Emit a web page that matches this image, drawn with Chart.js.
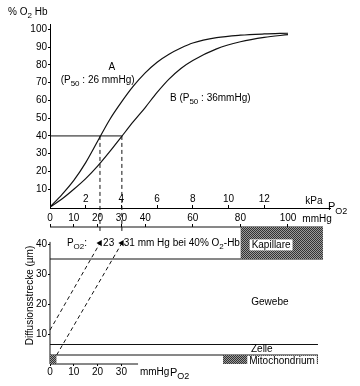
<!DOCTYPE html>
<html><head><meta charset="utf-8">
<script src="https://cdn.jsdelivr.net/npm/chart.js@4.4.1/dist/chart.umd.min.js"></script>
<style>
html,body{margin:0;padding:0;background:#fff;}
#wrap{position:relative;width:360px;height:386px;background:#fff;}
canvas{position:absolute;left:0;top:0;}
</style></head><body>
<div id="wrap"><canvas id="cB" width="360" height="386"></canvas><canvas id="cT" width="360" height="386"></canvas></div>
<script>
// ---------- values ----------
const pO2  = [0, 5, 10, 15, 20, 25, 30, 35, 40, 45, 50, 55, 60, 70, 80, 90, 100];        // mmHg
const satA = [0, 7, 15, 25, 37, 49, 59, 68, 75.5, 81.5, 86, 89.5, 92.3, 95.3, 96.7, 97.4, 97.8]; // % O2-Hb, curve A
const satB = [0, 4.5, 10, 16, 23, 31, 39.5, 48, 56, 64.5, 72, 78, 82.5, 89, 93, 95.5, 97];      // % O2-Hb, curve B
const p40 = [21, 30.2];            // mmHg where A and B reach 40 % (as drawn)
const level40 = 40;                // % O2-Hb
const pctTicks   = [10, 20, 30, 40, 50, 60, 70, 80, 90, 100];
const mmHgTicks  = [0, 10, 20, 30, 40, 60, 80, 100];
const kPaTicks   = [2, 4, 6, 8, 10, 12];
const umTicks    = [10, 20, 30, 40];
const lowMmHgTicks = [0, 10, 20, 30];
// diffusion sketch (x: mmHg, y: µm)
const capWall = 35, capTop = 45.67;
const capX = [80, 114.7];
const cellLine = 6.5, mitoLine = 3;
const layerEnd = 112.6;
const mitoX = [72.7, 112.6];
const smallMitoX = [0, 2.8];
const diag1X = [0, 21],   diag1Y = [11.3, 40.3];
const diag2X = [2.8, 30.2], diag2Y = [3, 40.3];
const yAxisTopUm = 40.7, xAxisEndMmHg = 37;
const xMax = 117.65, kPaPerMmHg = 0.133322;

const FF = '"Liberation Sans", Arial, sans-serif';
Chart.defaults.font.family = FF;
Chart.defaults.font.size = 10;
Chart.defaults.color = '#000';

const pts = (xs, ys) => xs.map((x, i) => ({x, y: ys[i]}));

// hatch pattern (dark dither)
function hatch() {
  const c = document.createElement('canvas'); c.width = 2; c.height = 2;
  const g = c.getContext('2d');
  g.fillStyle = '#9a9a9a'; g.fillRect(0, 0, 2, 2);
  g.fillStyle = '#333'; g.fillRect(0, 0, 1, 1); g.fillRect(1, 1, 1, 1);
  return g.createPattern(c, 'repeat');
}

function drawRich(ctx, text, x, y, align, size, box) {
  const parts = text.split(/_\{([^}]*)\}/);
  const big = size + 'px ' + FF, small = Math.round(size * 0.78) + 'px ' + FF;
  let w = 0;
  parts.forEach((t, i) => { ctx.font = (i % 2) ? small : big; w += ctx.measureText(t).width; });
  let cx = align === 'center' ? x - w / 2 : (align === 'right' ? x - w : x);
  if (box) {
    ctx.fillStyle = '#fff';
    ctx.fillRect(cx - 2, y - size * 0.55, w + 4, size * 1.1);
  }
  ctx.fillStyle = '#000'; ctx.textAlign = 'left'; ctx.textBaseline = 'middle';
  parts.forEach((t, i) => {
    ctx.font = (i % 2) ? small : big;
    ctx.fillText(t, cx, (i % 2) ? y + size * 0.38 : y);
    cx += ctx.measureText(t).width;
  });
}

function labelPlugin(labels) {
  return {
    id: 'labels',
    afterDatasetsDraw(chart) {
      const ctx = chart.ctx, sx = chart.scales.x, sy = chart.scales.y;
      ctx.save();
      labels.forEach(l => drawRich(ctx, l.t, sx.getPixelForValue(l.x), sy.getPixelForValue(l.y), l.a || 'left', l.s || 10, l.box));
      ctx.restore();
    }
  };
}

const setTicks = arr => s => { s.ticks = arr.map(v => ({value: v})); };
const axisGrid = len => ({drawOnChartArea: false, drawTicks: true, tickLength: len, color: '#000', lineWidth: 1});

// ---------------- top chart: dissociation curves ----------------
const lineStyle = {borderColor: '#111', borderWidth: 1.2, pointRadius: 0, fill: false};
new Chart(document.getElementById('cT'), {
  type: 'line',
  data: {
    datasets: [
      Object.assign({label: 'A', data: pts(pO2, satA), cubicInterpolationMode: 'monotone'}, lineStyle),
      Object.assign({label: 'B', data: pts(pO2, satB), cubicInterpolationMode: 'monotone'}, lineStyle),
      Object.assign({label: '40%', data: pts([0, p40[1]], [level40, level40])}, lineStyle, {borderWidth: 1}),
      Object.assign({label: 'dA', data: pts([p40[0], p40[0]], [level40, -15]), clip: false, borderDash: [4, 3]}, lineStyle, {borderWidth: 1}),
      Object.assign({label: 'dB', data: pts([p40[1], p40[1]], [level40, -15]), clip: false, borderDash: [4, 3]}, lineStyle, {borderWidth: 1})
    ]
  },
  options: {
    responsive: false, animation: false, devicePixelRatio: 1,
    layout: {padding: {left: 0, right: 30, top: 24, bottom: 179}},
    plugins: {legend: {display: false}, tooltip: {enabled: false}},
    scales: {
      x: {type: 'linear', min: 0, max: xMax, display: false},
      y: {
        type: 'linear', min: 0, max: 103,
        afterFit: s => { s.width = 50; },
        afterBuildTicks: setTicks(pctTicks),
        grid: axisGrid(2), border: {display: true, color: '#000', width: 1},
        ticks: {padding: 1, font: {size: 10}}
      }
    }
  },
  plugins: [labelPlugin([
    {t: '% O_{2} Hb', x: -17.6, y: 109.7},
    {t: 'A', x: 26, y: 78.7, a: 'center'},
    {t: '(P_{50} : 26 mmHg)', x: 20, y: 71.4, a: 'center'},
    {t: 'B (P_{50} : 36mmHg)', x: 50.4, y: 61.3}
  ])]
});

// ---------------- bottom chart: diffusion distance ----------------
const H = hatch();
const solid = {borderColor: '#111', borderWidth: 1, pointRadius: 0, fill: false};
const fillBox = (xs, yLine, base) => ({data: pts(xs, [yLine, yLine]), borderWidth: 0, pointRadius: 0, backgroundColor: H, fill: {value: base}});
const arrowLine = (xs, ys) => Object.assign({}, solid, {
  data: pts(xs, ys), borderDash: [4, 3],
  pointRadius: [0, 3.5], pointStyle: 'triangle', pointRotation: 30,
  pointBackgroundColor: '#000', pointBorderColor: '#000', pointBorderWidth: 0, clip: false
});
new Chart(document.getElementById('cB'), {
  type: 'line',
  data: {
    datasets: [
      fillBox(capX, capTop, capWall),
      fillBox(mitoX, mitoLine, 0),
      fillBox(smallMitoX, mitoLine, 0),
      Object.assign({data: pts([0, capX[1]], [capTop, capTop]), clip: false}, solid),
      Object.assign({data: pts([0, capX[1]], [capWall, capWall])}, solid),
      Object.assign({data: pts([0, layerEnd], [cellLine, cellLine])}, solid),
      Object.assign({data: pts([0, layerEnd], [mitoLine, mitoLine])}, solid),
      Object.assign({data: pts([0, 0], [0, yAxisTopUm]), clip: false}, solid),
      Object.assign({data: pts([0, xAxisEndMmHg], [0, 0]), clip: false}, solid),
      arrowLine(diag1X, diag1Y),
      arrowLine(diag2X, diag2Y)
    ]
  },
  options: {
    responsive: false, animation: false, devicePixelRatio: 1,
    layout: {padding: {left: 0, right: 30, top: 188, bottom: 0}},
    plugins: {legend: {display: false}, tooltip: {enabled: false}},
    scales: {
      x: {
        type: 'linear', position: 'bottom', min: 0, max: xMax,
        afterFit: s => { s.height = 22; },
        afterBuildTicks: setTicks(lowMmHgTicks),
        grid: axisGrid(2), border: {display: false},
        ticks: {padding: 0}
      },
      xm: {
        type: 'linear', position: 'top', weight: 0, min: 0, max: xMax,
        afterFit: s => { s.height = 19; },
        afterBuildTicks: setTicks(mmHgTicks),
        grid: axisGrid(3), border: {display: false},
        ticks: {padding: 0}
      },
      xk: {
        type: 'linear', position: 'top', weight: 1, min: 0, max: xMax * kPaPerMmHg,
        afterFit: s => { s.height = 20; },
        afterBuildTicks: setTicks(kPaTicks),
        grid: axisGrid(3), border: {display: true, color: '#000', width: 1},
        ticks: {padding: 0}
      },
      y: {
        type: 'linear', min: 0, max: capTop,
        afterFit: s => { s.width = 50; },
        afterBuildTicks: setTicks(umTicks),
        grid: axisGrid(2), border: {display: false},
        ticks: {padding: 1},
        title: {display: true, text: 'Diffusionsstrecke (µm)', font: {size: 10}, padding: {top: 24, bottom: 0}}
      }
    }
  },
  plugins: [labelPlugin([
    {t: 'kPa', x: 110.9, y: 54.3, a: 'center'},
    {t: 'P_{O2}', x: 116.8, y: 52.3, s: 11},
    {t: 'mmHg', x: 112.2, y: 48.3, a: 'center'},
    {t: 'P_{O2}:', x: 7.1, y: 40.3},
    {t: '23', x: 22.3, y: 40.3},
    {t: '31 mm Hg bei 40% O_{2}-Hb', x: 31, y: 40.3},
    {t: 'Kapillare', x: 92.9, y: 39.7, a: 'center', box: true},
    {t: 'Gewebe', x: 92.4, y: 20.7, a: 'center'},
    {t: 'Zelle', x: 89, y: 4.9, a: 'center'},
    {t: 'Mitochondrium', x: 97.5, y: 0.9, a: 'center', box: true},
    {t: 'mmHg', x: 37.8, y: -2.7},
    {t: 'P_{O2}', x: 50.4, y: -2.9, s: 11}
  ])]
});
</script>
</body></html>
